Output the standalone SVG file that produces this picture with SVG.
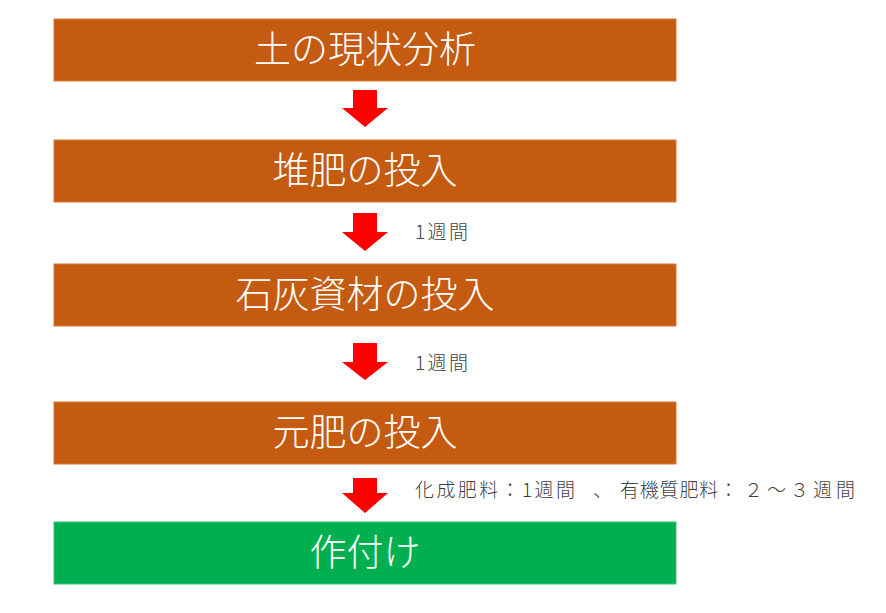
<svg xmlns="http://www.w3.org/2000/svg" width="886" height="613" viewBox="0 0 886 613">
<style>
.box{fill:#C55A11;stroke:#D9793A;stroke-width:1}
.go{fill:#00B050;stroke:#3CC47A;stroke-width:1}
.t{font-family:"Noto Sans CJK JP","Noto Sans",sans-serif;font-size:37px;font-weight:300;fill:#FFFFFF;text-anchor:middle}
.n{font-family:"Noto Sans CJK JP","Noto Sans",sans-serif;font-size:19px;font-weight:300;fill:#404040}
.arr{fill:#FF0000}
</style>
<rect width="886" height="613" fill="#FFFFFF"/>
<g id="n1"><rect class="box" x="54" y="19" width="622" height="62"/><text class="t" x="365" y="63">土の現状分析</text></g>
<g id="n2"><rect class="box" x="54" y="140" width="622" height="62"/><text class="t" x="365" y="184">堆肥の投入</text></g>
<g id="n3"><rect class="box" x="54" y="264" width="622" height="62"/><text class="t" x="365" y="308">石灰資材の投入</text></g>
<g id="n4"><rect class="box" x="54" y="402" width="622" height="62"/><text class="t" x="365" y="446">元肥の投入</text></g>
<g id="n5"><rect class="go" x="54" y="522" width="622" height="62"/><text class="t" x="365" y="566">作付け</text></g>
<g id="connectors">
<polygon class="arr" points="353,90 377,90 377,108 388,108 365,127 342,108 353,108"/>
<polygon class="arr" points="353,213 377,213 377,232 388,232 365,251 342,232 353,232"/>
<polygon class="arr" points="353,343 377,343 377,362 388,362 365,380 342,362 353,362"/>
<polygon class="arr" points="353,478 377,478 377,493 388,493 365,513 342,493 353,493"/>
<text class="n" x="415" y="239" textLength="53" lengthAdjust="spacing">1週間</text>
<text class="n" x="415" y="370" textLength="53" lengthAdjust="spacing">1週間</text>
<text class="n" y="497"><tspan x="415" textLength="160" lengthAdjust="spacing">化成肥料：1週間</tspan><tspan x="593">、</tspan><tspan x="620" textLength="118" lengthAdjust="spacing">有機質肥料：</tspan><tspan x="744" textLength="111" lengthAdjust="spacing">２～３週間</tspan></text>
</g>
</svg>
